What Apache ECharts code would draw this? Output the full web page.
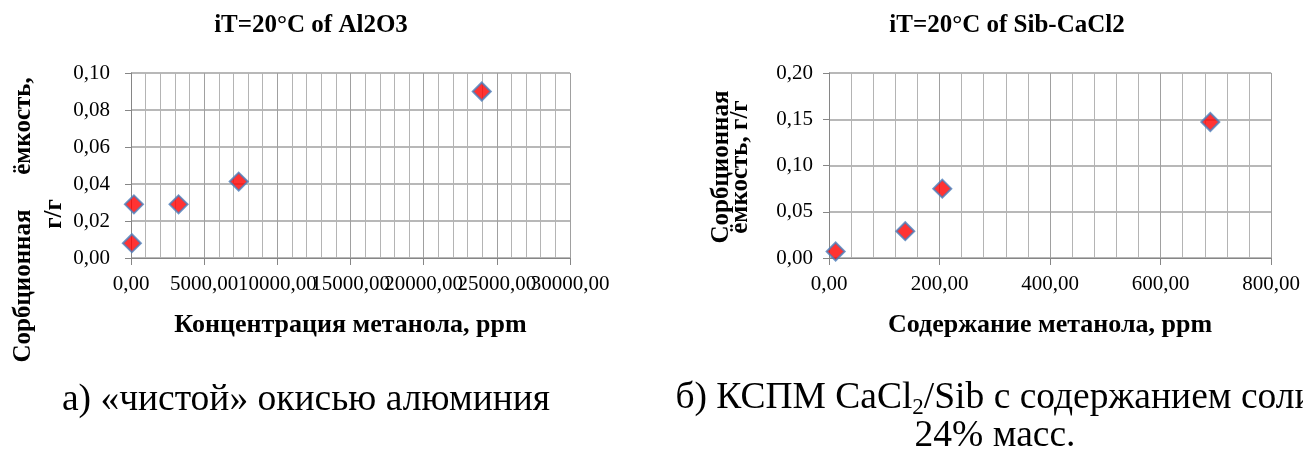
<!DOCTYPE html>
<html>
<head>
<meta charset="utf-8">
<script src="https://cdn.jsdelivr.net/npm/echarts@6/dist/echarts.min.js"></script>
<style>
  html, body { margin: 0; padding: 0; background: #ffffff; }
  #chart { width: 1303px; height: 452px; }
</style>
</head>
<body>
<div id="chart"></div>
<script>
// Sorption capacity of methanol at 20 °C
// Panel a: pure alumina (Al2O3), concentration in ppm
const al2o3Conc = [60, 200, 3250, 7360, 23970];
const al2o3Capacity = [0.008, 0.029, 0.029, 0.0413, 0.090];

// Panel b: CaCl2/Sib composite, methanol content in ppm
const sibConc = [12, 138, 205, 690];
const sibCapacity = [0.007, 0.029, 0.075, 0.147];

// Axis ranges and steps
const al2o3XTicks = { min: 0, max: 30000, step: 5000 };
const al2o3YTicks = { min: 0, max: 0.10, step: 0.02 };
const sibXTicks = { min: 0, max: 800, step: 200 };
const sibYTicks = { min: 0, max: 0.20, step: 0.05 };

const titles = ['iT=20°C of Al2O3', 'iT=20°C of Sib-CaCl2'];
const xNames = ['Концентрация метанола, ppm', 'Содержание метанола, ppm'];

const SERIF = 'Liberation Serif, Times New Roman, serif';
const GRID_MAJOR = '#a0a0a0';
const GRID_MINOR = '#b4b4b4';
const AXIS_COLOR = '#868686';

const commaFmt = v => v.toFixed(2).replace('.', ',');
const labelFont = { fontFamily: SERIF, fontSize: 21, color: '#000', margin: 16 };

function xAxisCfg(gridIndex, t, name, formatter) {
  return {
    type: 'value', gridIndex, position: 'bottom',
    min: t.min, max: t.max, interval: t.step,
    name, nameLocation: 'middle', nameGap: 54,
    nameTextStyle: { fontFamily: SERIF, fontWeight: 'bold', fontSize: 26, color: '#000' },
    axisLine: { show: true, lineStyle: { color: AXIS_COLOR, width: 1 } },
    axisTick: { show: true, inside: false, length: 7, lineStyle: { color: AXIS_COLOR } },
    axisLabel: Object.assign({ showMinLabel: true, showMaxLabel: true, hideOverlap: false,
      formatter: formatter || commaFmt }, labelFont),
    splitLine: { show: true, lineStyle: { color: GRID_MAJOR, width: 1 } },
    minorTick: { show: false, splitNumber: 5 },
    minorSplitLine: { show: true, lineStyle: { color: GRID_MINOR, width: 1 } }
  };
}

// Labels-only companion axis: carries the odd 5000-step labels of panel a,
// so neighbouring wide labels may touch each other as in a spreadsheet chart
function xLabelAxisCfg(gridIndex, t, formatter) {
  return {
    type: 'value', gridIndex, position: 'bottom', offset: 0,
    min: t.min, max: t.max, interval: t.step,
    axisLine: { show: false }, axisTick: { show: false },
    splitLine: { show: false }, minorSplitLine: { show: false },
    axisLabel: Object.assign({ showMinLabel: true, showMaxLabel: true, hideOverlap: false,
      formatter }, labelFont)
  };
}

function yAxisCfg(gridIndex, t, labelGap) {
  return {
    type: 'value', gridIndex,
    min: t.min, max: t.max, interval: t.step,
    axisLine: { show: true, lineStyle: { color: AXIS_COLOR, width: 1 } },
    axisTick: { show: true, inside: false, length: 6, lineStyle: { color: AXIS_COLOR } },
    axisLabel: { fontFamily: SERIF, fontSize: 21, color: '#000', margin: labelGap,
      showMinLabel: true, showMaxLabel: true, formatter: commaFmt },
    splitLine: { show: true, lineStyle: { color: GRID_MAJOR, width: 1.5 } }
  };
}

function pairs(xs, ys) { return xs.map((x, i) => [x, ys[i]]); }

const evenStep = v => (Math.round(v) % 10000 === 0 ? commaFmt(v) : '');
const oddStep = v => (Math.round(v) % 10000 === 5000 ? commaFmt(v) : '');

const markerStyle = { color: '#ff0000', borderColor: '#4a7ebb', borderWidth: 2 };

const chart = echarts.init(document.getElementById('chart'), null, { renderer: 'canvas' });

chart.setOption({
  animation: false,
  backgroundColor: '#ffffff',
  title: [
    { text: titles[0], left: 306, top: 8, textAlign: 'center',
      textStyle: { fontFamily: SERIF, fontWeight: 'bold', fontSize: 25, color: '#000' } },
    { text: titles[1], left: 1002, top: 8, textAlign: 'center',
      textStyle: { fontFamily: SERIF, fontWeight: 'bold', fontSize: 25, color: '#000' } }
  ],
  grid: [
    { left: 131, top: 73, width: 439, height: 185, containLabel: false },
    { left: 829, top: 73, width: 443, height: 185, containLabel: false }
  ],
  xAxis: [
    xAxisCfg(0, al2o3XTicks, xNames[0], evenStep),
    xAxisCfg(1, sibXTicks, xNames[1]),
    xLabelAxisCfg(0, al2o3XTicks, oddStep)
  ],
  yAxis: [
    yAxisCfg(0, al2o3YTicks, 21),
    yAxisCfg(1, sibYTicks, 16)
  ],
  series: [
    { type: 'scatter', xAxisIndex: 0, yAxisIndex: 0, symbol: 'diamond', symbolSize: 18,
      itemStyle: markerStyle, data: pairs(al2o3Conc, al2o3Capacity) },
    { type: 'scatter', xAxisIndex: 1, yAxisIndex: 1, symbol: 'diamond', symbolSize: 18,
      itemStyle: markerStyle, data: pairs(sibConc, sibCapacity) }
  ],
  graphic: [
    // y-axis title, panel a (rotated, two lines)
    { type: 'text', x: 24, y: 286, rotation: Math.PI / 2,
      style: { text: 'Сорбционная', font: 'bold 25px ' + SERIF, fill: '#000', align: 'center', verticalAlign: 'middle' } },
    { type: 'text', x: 24, y: 126, rotation: Math.PI / 2,
      style: { text: 'ёмкость,', font: 'bold 25px ' + SERIF, fill: '#000', align: 'center', verticalAlign: 'middle' } },
    { type: 'text', x: 55, y: 214, rotation: Math.PI / 2,
      style: { text: 'г/г', font: 'bold 25px ' + SERIF, fill: '#000', align: 'center', verticalAlign: 'middle' } },
    // y-axis title, panel b
    { type: 'text', x: 722, y: 167, rotation: Math.PI / 2,
      style: { text: 'Сорбционная', font: 'bold 25px ' + SERIF, fill: '#000', align: 'center', verticalAlign: 'middle' } },
    { type: 'text', x: 741, y: 167, rotation: Math.PI / 2,
      style: { text: 'ёмкость, г/г', font: 'bold 25px ' + SERIF, fill: '#000', align: 'center', verticalAlign: 'middle' } },
    // figure captions
    { type: 'text', x: 306, y: 400,
      style: { text: 'а) «чистой» окисью алюминия', font: '37.5px ' + SERIF, fill: '#000', align: 'center', verticalAlign: 'middle' } },
    { type: 'text', x: 995, y: 398,
      style: {
        text: '{m|б) КСПМ CaCl}{s|2}{m|/Sib с содержанием соли}',
        align: 'center', verticalAlign: 'middle',
        rich: {
          m: { fontFamily: SERIF, fontSize: 37.5, fill: '#000', lineHeight: 42, verticalAlign: 'middle' },
          s: { fontFamily: SERIF, fontSize: 23, fill: '#000', lineHeight: 42, verticalAlign: 'bottom' }
        }
      } },
    { type: 'text', x: 995, y: 436,
      style: { text: '24% масс.', font: '37.5px ' + SERIF, fill: '#000', align: 'center', verticalAlign: 'middle' } }
  ]
});
</script>
</body>
</html>
